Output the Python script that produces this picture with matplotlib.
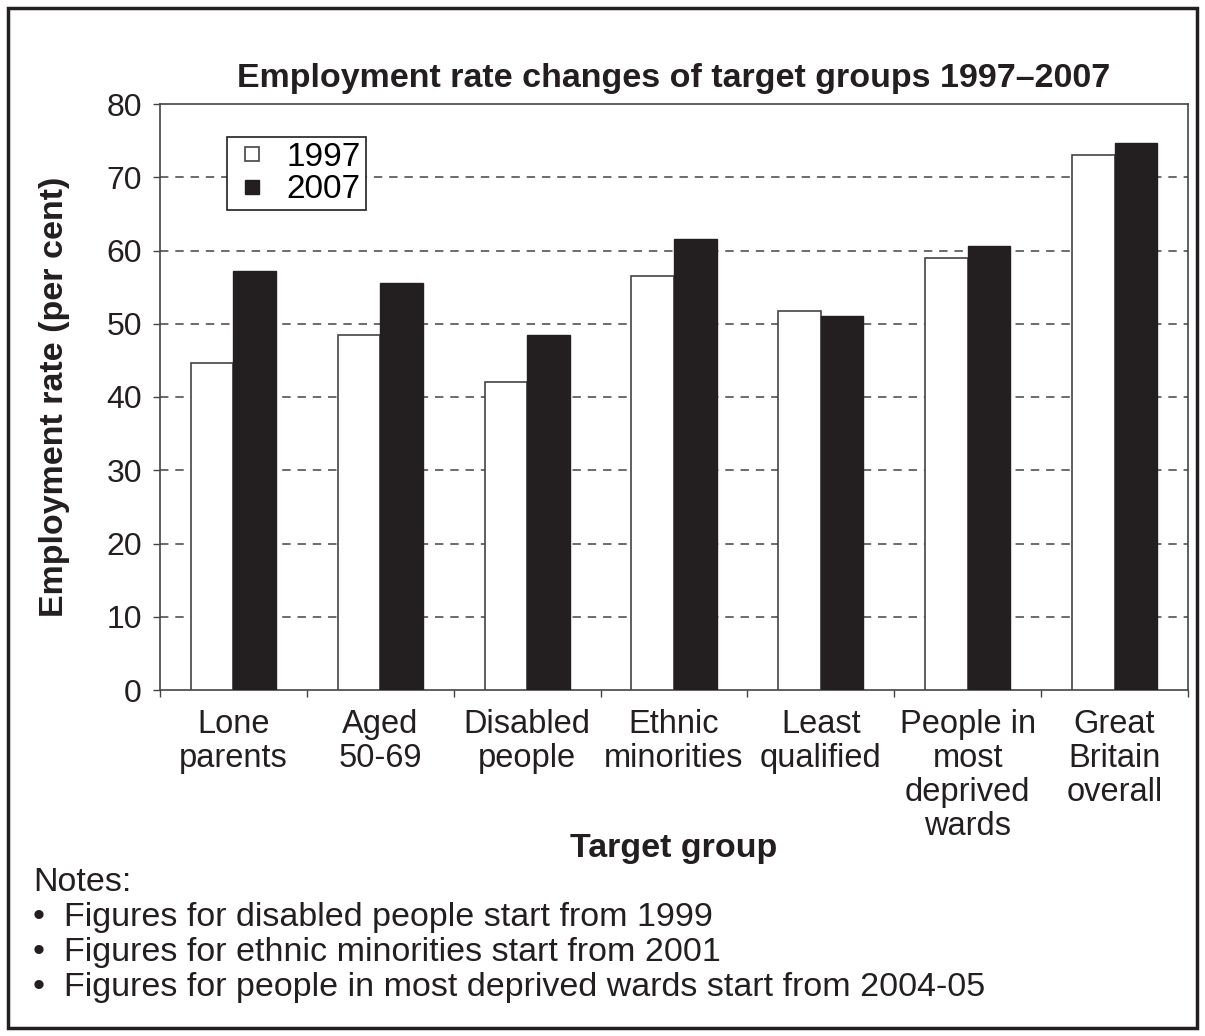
import matplotlib
matplotlib.use('Agg')
import matplotlib.pyplot as plt
import numpy as np
from matplotlib.patches import Rectangle
from matplotlib.lines import Line2D

plt.rcParams['font.family'] = ['Liberation Sans', 'DejaVu Sans']

# Donnees
groups = ['Lone\nparents', 'Aged\n50-69', 'Disabled\npeople', 'Ethnic\nminorities',
          'Least\nqualified', 'People in\nmost\ndeprived\nwards', 'Great\nBritain\noverall']
rate_1997 = [44.7, 48.5, 42.0, 56.5, 51.7, 59.0, 73.0]
rate_2007 = [57.2, 55.6, 48.4, 61.6, 51.0, 60.6, 74.7]
years = ['1997', '2007']
yticks = [0, 10, 20, 30, 40, 50, 60, 70, 80]
notes = ['Notes:',
         '\u2022  Figures for disabled people start from 1999',
         '\u2022  Figures for ethnic minorities start from 2001',
         '\u2022  Figures for people in most deprived wards start from 2004-05']

W, H = 1205, 1036
ink = '#231f20'
edge = '#444444'
fig = plt.figure(figsize=(W / 100, H / 100), dpi=100)
ax = fig.add_axes([160 / W, 1 - 690 / H, 1028 / W, 586 / H])

x = np.arange(len(groups))
bw = 0.29
ax.bar(x - bw / 2, rate_1997, bw, color='white', edgecolor=edge, linewidth=1.2, zorder=3)
ax.bar(x + bw / 2, rate_2007, bw, color=ink, edgecolor=ink, linewidth=1.0, zorder=3)

ax.set_xlim(-0.5, len(groups) - 0.5)
ax.set_ylim(0, 80)
ax.set_yticks(yticks)
ax.tick_params(axis='y', labelsize=23, direction='out', length=5, width=1,
               color=edge, labelcolor=ink, pad=8)
ax.set_xticks(x)
ax.set_xticklabels(groups, fontsize=23.5, linespacing=1.12, color=ink)
ax.tick_params(axis='x', length=0, pad=14)
ax.set_xticks(np.arange(len(groups) + 1) - 0.5, minor=True)
ax.tick_params(axis='x', which='minor', length=5, width=1, direction='out', color=edge)

for v in yticks[1:-1]:
    ax.axhline(v, color=edge, linestyle=(0, (5.5, 4.5)), linewidth=1.1, zorder=1)

for s in ax.spines.values():
    s.set_color(edge)
    s.set_linewidth(1.2)

ax.set_title('Employment rate changes of target groups 1997\u20132007', fontsize=24.5,
             fontweight='bold', pad=12, color=ink)
ax.set_ylabel('Employment rate (per cent)', fontsize=24.5, fontweight='bold', labelpad=26,
              color=ink)
ax.set_xlabel('Target group', fontsize=24.5, fontweight='bold', color=ink)
ax.xaxis.set_label_coords(0.5, (690 - 848) / 586)
ax.xaxis.label.set_va('center')

# legende avec petits carres
handles = [Line2D([], [], linestyle='none', marker='s', markersize=10.5,
                  markerfacecolor='white', markeredgecolor=edge, markeredgewidth=1.2),
           Line2D([], [], linestyle='none', marker='s', markersize=10.5,
                  markerfacecolor=ink, markeredgecolor=ink)]
leg = ax.legend(handles, years, loc='upper left', bbox_to_anchor=(0.065, 0.944),
                borderaxespad=0, fontsize=24, fancybox=False, edgecolor=ink, framealpha=1,
                handlelength=1.2, handletextpad=0.45, borderpad=0.15, labelspacing=0.05)
leg.get_frame().set_linewidth(1.2)

for i, line in enumerate(notes):
    fig.text(33 / W, 1 - (891 + i * 35) / H, line, fontsize=24.5, va='baseline', ha='left',
             color=ink)

fig.patches.append(Rectangle((8 / W, 8 / H), 1 - 16 / W, 1 - 16 / H, transform=fig.transFigure,
                             fill=False, edgecolor=ink, linewidth=2.5))

fig.savefig('out.png', dpi=100)
